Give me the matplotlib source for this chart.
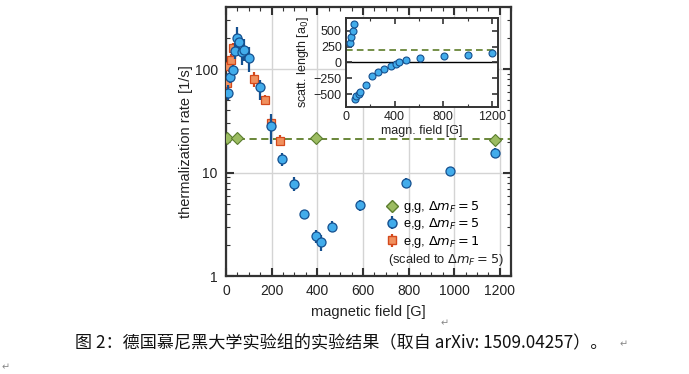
import matplotlib
matplotlib.use("Agg")
import matplotlib.pyplot as plt
from matplotlib.lines import Line2D
import numpy as np

plt.rcParams["font.family"] = ["Liberation Sans", "DejaVu Sans"]
plt.rcParams["mathtext.fontset"] = "dejavusans"

# e,g  dm_F = 5  (blue circles)
eg5_x = [8, 17, 29, 38, 49, 58, 70, 80, 99, 148, 199, 246, 296, 342, 393, 417, 465, 588, 787, 983, 1178]
eg5_y = [59, 84, 98, 150, 202, 183, 147, 153, 129, 67, 28, 13.5, 7.8, 4.0, 2.45, 2.12, 3.0, 4.85, 8.0, 10.4, 15.4]
eg5_lo = [50, 74, 88, 125, 163, 150, 110, 120, 94, 50, 19, 11.5, 6.6, 3.7, 2.1, 1.75, 2.7, 4.3, 7.2, 10.0, 13.8]
eg5_hi = [70, 96, 110, 180, 255, 220, 190, 195, 163, 78, 37, 15.4, 9.1, 4.3, 2.8, 2.5, 3.4, 5.5, 8.9, 10.8, 17.2]

# e,g  dm_F = 1  (orange squares, scaled)
eg1_x = [6, 12, 22, 32, 122, 172, 196, 236]
eg1_y = [73, 108, 124, 160, 81, 50, 30, 20.3]
eg1_lo = [63, 95, 110, 140, 68, 45, 26, 18]
eg1_hi = [83, 120, 140, 180, 95, 56, 34, 23]

# g,g  dm_F = 5  (green diamonds)
gg_x = [5, 50, 393, 1178]
gg_y = [21.5, 21.5, 21.5, 20.5]
gg_level = 21.3

# inset: scattering length
sc_x = [35, 46, 55, 65, 76, 87, 110, 120, 166, 218, 264, 316, 368, 410, 436, 490, 605, 804, 1000, 1199]
sc_y = [310, 400, 500, 600, -580, -530, -490, -470, -350, -220, -145, -110, -60, -25, 0, 35, 65, 95, 120, 145]
sc_gg = 200

blue_f, blue_e = "#42aceb", "#15508f"
org_f, org_e = "#f0905e", "#d4491c"
grn_f, grn_e = "#9cbc62", "#5b7d2e"
spine_c = "#333333"

fig = plt.figure(figsize=(6.89, 3.74), dpi=100, facecolor="white")
ax = fig.add_axes([0.328, 0.262, 0.414, 0.719])

ax.axhline(gg_level, color="#5e7d2a", linestyle=(0, (4, 2.5)), linewidth=1.3, zorder=2)


def yerr(y, lo, hi):
    y = np.array(y)
    return [y - np.array(lo), np.array(hi) - y]


ax.errorbar(gg_x, gg_y, fmt="D", ms=6, mfc=grn_f, mec=grn_e, mew=0.8,
            ecolor=grn_e, zorder=3)
ax.errorbar(eg1_x, eg1_y, yerr=yerr(eg1_y, eg1_lo, eg1_hi), fmt="s", ms=5.5,
            mfc=org_f, mec=org_e, mew=0.9, ecolor=org_e, elinewidth=1.6,
            capsize=0, zorder=4)
ax.errorbar(eg5_x, eg5_y, yerr=yerr(eg5_y, eg5_lo, eg5_hi), fmt="o", ms=6.5,
            mfc=blue_f, mec=blue_e, mew=0.9, ecolor=blue_e, elinewidth=1.6,
            capsize=0, zorder=5)

ax.set_yscale("log")
ax.set_xlim(0, 1250)
ax.set_ylim(1, 400)
ax.set_xticks([0, 200, 400, 600, 800, 1000, 1200])
ax.set_xticks(np.arange(0, 1251, 50), minor=True)
ax.set_yticks([1, 10, 100])
ax.set_yticklabels(["1", "10", "100"])
ax.grid(True, which="major", color="#d4d4d4", linewidth=1.0, zorder=0)
ax.set_axisbelow(True)
ax.tick_params(which="both", direction="in", top=True, right=True,
               labelsize=10, colors=spine_c, labelcolor="#222222")
ax.tick_params(which="major", length=6, width=1.5, pad=6)
ax.tick_params(which="minor", length=3, width=0.8)
for s in ax.spines.values():
    s.set_color(spine_c)
    s.set_linewidth(1.6)
ax.set_xlabel("magnetic field [G]", fontsize=10.5, color="#222222", labelpad=5)
ax.set_ylabel("thermalization rate [1/s]", fontsize=10.5, color="#222222", labelpad=1)

# legend
h_gg = Line2D([], [], marker="D", ls="none", ms=6, mfc=grn_f, mec=grn_e)
h_e5 = ax.errorbar([], [], yerr=[], fmt="o", ms=6.5, mfc=blue_f, mec=blue_e,
                   ecolor=blue_e, elinewidth=1.6)
h_e1 = ax.errorbar([], [], yerr=[], fmt="s", ms=5.5, mfc=org_f, mec=org_e,
                   ecolor=org_e, elinewidth=1.6)
ax.legend([h_gg, h_e5, h_e1],
          [r"g,g, $\mathit{\Delta m_F} = 5$", r"e,g, $\mathit{\Delta m_F} = 5$",
           r"e,g, $\mathit{\Delta m_F} = 1$"],
          loc="upper left", bbox_to_anchor=(0.545, 0.305), frameon=False,
          fontsize=9.3, handlelength=0.8, handletextpad=0.5, labelspacing=0.1,
          borderaxespad=0)
ax.text(0.975, 0.06, r"(scaled to $\mathit{\Delta m_F} = 5$)", transform=ax.transAxes,
        ha="right", va="center", fontsize=9.3, color="#222222")

# inset
ins = fig.add_axes([0.502, 0.714, 0.221, 0.238])
ins.set_facecolor("white")
ins.axhline(0, color="black", linewidth=1.0, zorder=1)
ins.axhline(sc_gg, color="#5e7d2a", linestyle=(0, (4, 2.5)), linewidth=1.2, zorder=1)
ins.plot(sc_x, sc_y, "o", ms=5, mfc=blue_f, mec=blue_e, mew=0.8, zorder=3)
ins.set_xlim(0, 1250)
ins.set_ylim(-700, 700)
ins.set_xticks([0, 400, 800, 1200])
ins.set_xticks([200, 600, 1000], minor=True)
ins.set_yticks([-500, -250, 0, 250, 500])
ins.tick_params(which="both", direction="in", top=True, right=True,
                labelsize=9, colors=spine_c, labelcolor="#222222", pad=3)
ins.tick_params(which="major", length=4, width=1.2)
ins.tick_params(which="minor", length=2.5, width=0.8)
for s in ins.spines.values():
    s.set_color(spine_c)
    s.set_linewidth(1.4)
ins.set_xlabel("magn. field [G]", fontsize=9, color="#222222", labelpad=1)
ins.set_ylabel(r"scatt. length [a$_0$]", fontsize=9, color="#222222", labelpad=2)

# caption
cjk = ["Noto Sans CJK SC", "DejaVu Sans"]
fig.text(0.495, 0.083, "图 2：德国慕尼黑大学实验组的实验结果（取自 arXiv: 1509.04257）。",
         ha="center", va="center", fontsize=12.3, family=cjk, color="#111111")
fig.text(0.905, 0.08, "↵", ha="center", va="center", fontsize=7, family=cjk, color="#888888")
fig.text(0.645, 0.135, "↵", ha="center", va="center", fontsize=7, family=cjk, color="#888888")
fig.text(0.008, 0.018, "↵", ha="center", va="center", fontsize=7, family=cjk, color="#888888")

fig.savefig("out.png", dpi=100, facecolor="white")
